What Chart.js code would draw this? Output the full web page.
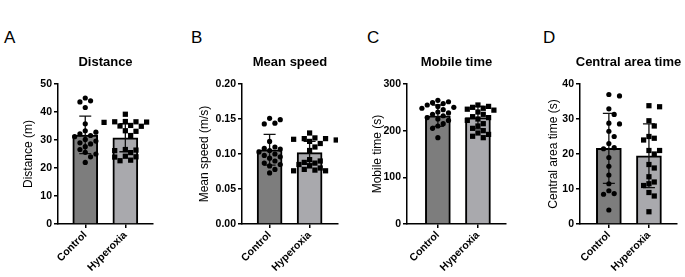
<!DOCTYPE html>
<html>
<head>
<meta charset="utf-8">
<script src="https://cdn.jsdelivr.net/npm/chart.js@4.4.1/dist/chart.umd.min.js"></script>
<style>
  body { margin: 0; background: #fff; width: 685px; height: 277px; position: relative; overflow: hidden;
         font-family: "Liberation Sans", Arial, sans-serif; }
  .panel { position: absolute; top: 0; }
  .letter { position: absolute; top: 29px; font-size: 17px; line-height: 17px; color: #000; }
</style>
</head>
<body>
<div class="letter" style="left:4px">A</div>
<div class="letter" style="left:191px">B</div>
<div class="letter" style="left:367px">C</div>
<div class="letter" style="left:543px">D</div>
<div class="panel" id="p0"><canvas id="c0"></canvas></div>
<div class="panel" id="p1"><canvas id="c1"></canvas></div>
<div class="panel" id="p2"><canvas id="c2"></canvas></div>
<div class="panel" id="p3"><canvas id="c3"></canvas></div>
<script>
const groups = ["Control", "Hyperoxia"];
const titles = ["Distance", "Mean speed", "Mobile time", "Central area time"];
const yTitles = ["Distance (m)", "Mean speed (m/s)", "Mobile time (s)", "Central area time (s)"];
const yMax = [50, 0.20, 300, 40];
const yStep = [10, 0.05, 100, 10];
const yDecimals = [0, 2, 0, 0];

// individual animals
const distanceControl = [45.0, 44.0, 43.6, 41.6, 35.8, 33.3, 32.8, 32.2, 31.6, 31.2, 30.2, 29.6, 29.0, 28.6, 27.6, 26.6, 25.6, 25.0, 24.0, 22.0];
const distanceHyperoxia = [39.2, 36.6, 36.5, 36.5, 36.4, 36.3, 35.2, 35.0, 34.9, 33.3, 33.1, 31.6, 26.6, 26.4, 26.2, 25.5, 24.2, 24.0, 23.9, 22.8, 22.6];
const speedControl = [0.151, 0.149, 0.144, 0.143, 0.118, 0.110, 0.108, 0.107, 0.105, 0.103, 0.100, 0.098, 0.096, 0.094, 0.090, 0.087, 0.085, 0.083, 0.078, 0.073];
const speedHyperoxia = [0.130, 0.123, 0.122, 0.122, 0.121, 0.120, 0.118, 0.115, 0.110, 0.105, 0.092, 0.090, 0.088, 0.087, 0.085, 0.083, 0.080, 0.078, 0.077, 0.076, 0.076];
const mobileControl = [265, 262, 260, 258, 255, 252, 250, 248, 245, 240, 238, 235, 232, 228, 225, 222, 215, 210, 205, 185];
const mobileHyperoxia = [255, 252, 250, 248, 246, 244, 240, 235, 230, 228, 225, 222, 215, 210, 205, 200, 195, 192, 188, 185];
const centralControl = [37.0, 36.6, 32.9, 31.3, 28.8, 28.6, 26.5, 25.0, 23.0, 21.8, 21.5, 19.0, 16.5, 14.0, 11.5, 9.5, 8.7, 8.5, 4.0];
const centralHyperoxia = [33.8, 33.5, 29.5, 28.0, 25.0, 24.5, 24.0, 21.0, 21.0, 20.0, 17.0, 16.0, 13.5, 12.0, 11.5, 11.0, 9.0, 8.0, 3.5];

// bar heights (mean) and error bars (SD) as drawn
const distanceMean = [31.8, 30.8], distanceSD = [6.7, 5.0];
const speedMean = [0.106, 0.102], speedSD = [0.022, 0.016];
const mobileMean = [232, 228], mobileSD = [23, 24];
const centralMean = [21.6, 19.5], centralSD = [10.0, 9.1];

const points = [
  [distanceControl, distanceHyperoxia],
  [speedControl, speedHyperoxia],
  [mobileControl, mobileHyperoxia],
  [centralControl, centralHyperoxia]
];
const means = [distanceMean, speedMean, mobileMean, centralMean];
const sds = [distanceSD, speedSD, mobileSD, centralSD];

// layout of each panel (pixels in the page)
const layout = [
  { left: 21, axis: 58, end: 153, xMin: -0.68, xMax: 1.69 },
  { left: 197, axis: 242, end: 338, xMin: -0.69, xMax: 1.71 },
  { left: 370, axis: 407, end: 506, xMin: -0.77, xMax: 1.70 },
  { left: 546, axis: 580, end: 677, xMin: -0.72, xMax: 1.70 }
];
const TOP = 84, BOTTOM = 224, H = 277;
const barColors = ["#7d7d7d", "#a9a9ad"];
const FONT = '"Liberation Sans", Arial, sans-serif';

// simple beeswarm: pixel offsets so the dots do not overlap
function swarm(values, pxPerY, d) {
  const placed = [];
  const offs = new Array(values.length).fill(0);
  const order = values.map((v, i) => i).sort((a, b) => values[b] - values[a]);
  for (const i of order) {
    const y = values[i] * pxPerY;
    for (let k = 0; k < 20; k++) {
      const dx = (k === 0 ? 0 : (k % 2 ? 1 : -1) * Math.ceil(k / 2) * d * 0.95);
      const hit = placed.some(p => Math.hypot(p.x - dx, p.y - y) < d);
      if (!hit) { offs[i] = dx; placed.push({ x: dx, y }); break; }
    }
  }
  return offs;
}

const extras = {
  id: "extras",
  afterDatasetDraw(chart, args, opts) {
    if (args.index !== 0) return;
    const ctx = chart.ctx, xs = chart.scales.x, ys = chart.scales.y;
    ctx.save();
    ctx.strokeStyle = "#111";
    ctx.lineWidth = 1.3;
    opts.mean.forEach((m, i) => {
      const x = xs.getPixelForValue(i);
      const y1 = ys.getPixelForValue(m + opts.sd[i]);
      const y2 = ys.getPixelForValue(m - opts.sd[i]);
      ctx.beginPath();
      ctx.moveTo(x, y1); ctx.lineTo(x, y2);
      ctx.moveTo(x - 6, y1); ctx.lineTo(x + 6, y1);
      ctx.moveTo(x - 6, y2); ctx.lineTo(x + 6, y2);
      ctx.stroke();
    });
    ctx.restore();
  },
  afterDraw(chart, args, opts) {
    const ctx = chart.ctx, a = chart.chartArea;
    ctx.save();
    ctx.fillStyle = "#000";
    ctx.font = "bold 13px " + FONT;
    ctx.textAlign = "center";
    ctx.textBaseline = "middle";
    ctx.fillText(opts.title, (a.left + a.right) / 2, 62);
    ctx.restore();
  }
};

layout.forEach((L, p) => {
  const W = L.end - L.left + 8;
  const div = document.getElementById("p" + p);
  div.style.left = L.left + "px";
  const canvas = document.getElementById("c" + p);
  canvas.width = W; canvas.height = H;
  canvas.style.width = W + "px"; canvas.style.height = H + "px";

  const pxPerX = (L.end - L.axis) / (L.xMax - L.xMin);
  const pxPerY = (BOTTOM - TOP) / yMax[p];

  const scatterSets = points[p].map((vals, g) => {
    const offs = swarm(vals, pxPerY, 5.6);
    return {
      type: "scatter",
      order: 1,
      data: vals.map((v, i) => ({ x: g + offs[i] / pxPerX, y: v })),
      pointStyle: g === 0 ? "circle" : "rect",
      pointRadius: g === 0 ? 2.6 : 3.7,
      backgroundColor: "#000",
      borderWidth: 0
    };
  });

  new Chart(canvas, {
    type: "bar",
    data: {
      datasets: [{
        order: 2,
        data: means[p].map((m, i) => ({ x: i, y: m })),
        backgroundColor: barColors,
        borderColor: "#000",
        borderWidth: 2,
        barThickness: 25
      }, ...scatterSets]
    },
    options: {
      responsive: false,
      animation: false,
      events: [],
      layout: { padding: { top: TOP, right: 8, left: 0, bottom: 0 } },
      plugins: {
        legend: { display: false },
        tooltip: { enabled: false },
        extras: { title: titles[p], mean: means[p], sd: sds[p] }
      },
      scales: {
        x: {
          type: "linear",
          offset: false,
          min: L.xMin, max: L.xMax,
          afterBuildTicks: s => { s.ticks = [{ value: 0 }, { value: 1 }]; },
          afterFit: s => { s.height = H - BOTTOM; s.paddingLeft = 0; s.paddingRight = 0; },
          grid: { offset: false, drawOnChartArea: false, drawTicks: true, tickLength: 4, color: "#000", lineWidth: 1.5 },
          border: { color: "#000", width: 1.5 },
          ticks: {
            autoSkip: false, minRotation: 45, maxRotation: 45, padding: 1,
            color: "#000", font: { family: FONT, size: 10.5, weight: "bold" },
            callback: v => groups[v]
          }
        },
        y: {
          min: 0, max: yMax[p],
          afterFit: s => { s.width = L.axis - L.left; },
          grid: { drawOnChartArea: false, drawTicks: true, tickLength: 4, color: "#000", lineWidth: 1.5 },
          border: { color: "#000", width: 1.5 },
          ticks: {
            stepSize: yStep[p], padding: 2, color: "#000",
            font: { family: FONT, size: 10.5, weight: "bold" },
            callback: v => v.toFixed(yDecimals[p])
          },
          title: {
            display: true, text: yTitles[p], color: "#000", padding: 0,
            font: { family: FONT, size: 12 }
          }
        }
      }
    },
    plugins: [extras]
  });
});
</script>
</body>
</html>
